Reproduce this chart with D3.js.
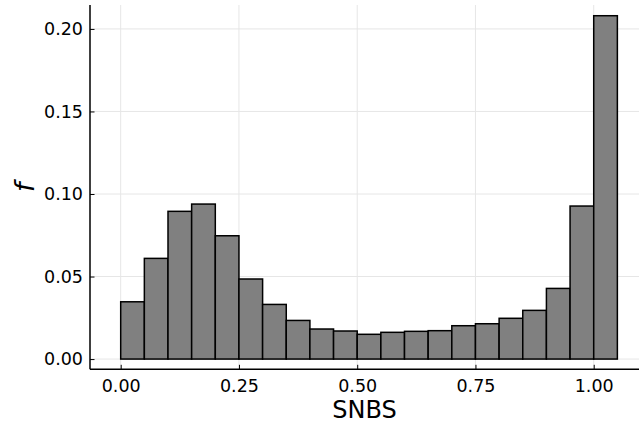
<!DOCTYPE html>
<html>
<head>
<meta charset="utf-8">
<script src="https://cdn.jsdelivr.net/npm/d3@7"></script>
<style>
  html, body { margin: 0; padding: 0; background: #fff; }
  svg { display: block; font-family: "DejaVu Sans", sans-serif; }
</style>
</head>
<body>
<svg id="chart" width="639" height="426"></svg>
<script>
// Histogram bins (left edges) and frequencies
const binStarts = [0.00, 0.05, 0.10, 0.15, 0.20, 0.25, 0.30, 0.35, 0.40, 0.45, 0.50,
                   0.55, 0.60, 0.65, 0.70, 0.75, 0.80, 0.85, 0.90, 0.95, 1.00];
const binWidth = 0.05;
const freqs = [0.0347, 0.0610, 0.0895, 0.0939, 0.0747, 0.0485, 0.0331, 0.0234, 0.0182, 0.0170, 0.0150,
               0.0162, 0.0168, 0.0172, 0.0202, 0.0214, 0.0247, 0.0295, 0.0428, 0.0927, 0.2080];
const xTicks = [0.00, 0.25, 0.50, 0.75, 1.00];
const yTicks = [0.00, 0.05, 0.10, 0.15, 0.20];
const xLabel = "SNBS";
const yLabel = "f";

(function () {
const svg = d3.select("#chart");
const pLeft = 90, pRight = 639, pTop = 5, pBottom = 369.3;

const x = d3.scaleLinear().domain([-0.0649, 1.0915]).range([pLeft, 637]);
const y = d3.scaleLinear().domain([-0.0062, 0.2145]).range([pBottom, pTop]);

// grid
svg.append("g").selectAll("line").data(xTicks).join("line")
  .attr("x1", d => x(d)).attr("x2", d => x(d))
  .attr("y1", pTop).attr("y2", pBottom)
  .attr("stroke", "#e6e6e6").attr("stroke-width", 1);
svg.append("g").selectAll("line").data(yTicks).join("line")
  .attr("x1", pLeft).attr("x2", pRight)
  .attr("y1", d => y(d)).attr("y2", d => y(d))
  .attr("stroke", "#e6e6e6").attr("stroke-width", 1);

// bars
svg.append("g").selectAll("rect").data(binStarts).join("rect")
  .attr("x", d => x(d))
  .attr("width", d => x(d + binWidth) - x(d))
  .attr("y", (d, i) => y(freqs[i]))
  .attr("height", (d, i) => y(0) - y(freqs[i]))
  .attr("fill", "#808080")
  .attr("stroke", "#000")
  .attr("stroke-width", 1.5);

// axes
const xAxis = d3.axisBottom(x).tickValues(xTicks).tickFormat(d3.format(".2f")).tickSizeInner(-4.5).tickSizeOuter(0).tickPadding(10);
const gx = svg.append("g").attr("transform", `translate(0,${pBottom})`).call(xAxis);
gx.select(".domain").attr("stroke", "#000").attr("stroke-width", 1.5).attr("d", `M${pLeft},0H${pRight}`);
gx.selectAll(".tick line").attr("stroke", "#000").attr("stroke-width", 1);
gx.selectAll(".tick text").attr("font-size", 17.5).attr("fill", "#000").attr("font-family", "DejaVu Sans");

const yAxis = d3.axisLeft(y).tickValues(yTicks).tickFormat(d3.format(".2f")).tickSizeInner(-4.5).tickSizeOuter(0).tickPadding(7);
const gy = svg.append("g").attr("transform", `translate(${pLeft},0)`).call(yAxis);
gy.select(".domain").attr("stroke", "#000").attr("stroke-width", 1.5).attr("d", `M0,${pTop}V${pBottom}`);
gy.selectAll(".tick line").attr("stroke", "#000").attr("stroke-width", 1);
gy.selectAll(".tick text").attr("font-size", 17.5).attr("fill", "#000").attr("font-family", "DejaVu Sans");

// labels
svg.append("text").attr("x", (pLeft + pRight) / 2).attr("y", 418)
  .attr("text-anchor", "middle").attr("font-size", 24).text(xLabel);
svg.append("text")
  .attr("transform", `translate(34,${(pTop + pBottom) / 2}) rotate(-90)`)
  .attr("text-anchor", "middle").attr("font-size", 27).attr("font-style", "italic").text(yLabel);
})();
</script>
</body>
</html>
